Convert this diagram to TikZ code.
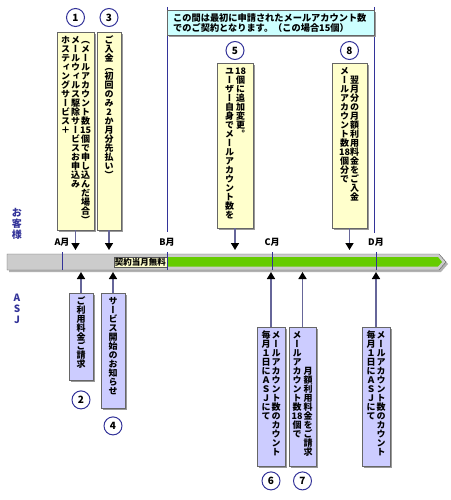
\documentclass[tikz,border=0pt]{standalone}
\usepackage{fontspec}
\setmainfont{Noto Sans CJK JP}
\newfontfamily\tatefont{Noto Sans CJK JP}[RawFeature=+vert]
\usetikzlibrary{positioning}
\usetikzlibrary{shadows}
\usetikzlibrary{arrows.meta}
\definecolor{asjnavy}{RGB}{51,51,153}
\definecolor{shaft}{RGB}{102,102,153}
\definecolor{boxyellow}{RGB}{255,255,204}
\definecolor{boxlilac}{RGB}{204,204,255}
\definecolor{boxcyan}{RGB}{204,255,255}
\definecolor{bargreen}{RGB}{102,204,0}
\definecolor{bargray}{RGB}{204,204,204}
\makeatletter
\newcommand\tate[1]{\vtop{\tatefont\baselineskip=9pt\lineskiplimit=-20pt\lineskip=0pt
  \@tfor\tate@c:=#1\do{\hbox to 10pt{\hss\vrule height 8pt depth 1pt width 0pt\tate@c\hss}}}}
\makeatother
\newcommand\tbox[2]{\vbox to #1{\hbox{#2}\vss}}
\tikzset{
  ybox/.style={draw=gray!80!black, fill=boxyellow, inner sep=3pt, anchor=north,
    font=\bfseries\fontsize{9}{9}\selectfont,
    drop shadow={shadow xshift=2pt, shadow yshift=-2pt, fill=gray!80, opacity=1}},
  lbox/.style={ybox, fill=boxlilac},
  num/.style={circle, draw=asjnavy, line width=1pt, fill=white, minimum size=18pt,
    inner sep=0pt, font=\bfseries\fontsize{10}{10}\selectfont},
  arr/.style={draw=shaft, line width=1.5pt, ->, >={Triangle[length=7pt,width=8pt,black]}},
  mon/.style={font=\bfseries\fontsize{9}{9}\selectfont, inner sep=0pt},
  side/.style={align=center, text=asjnavy, font=\bfseries\fontsize{10}{11}\selectfont, inner sep=0pt}
}
\begin{document}
\begin{tikzpicture}[x=1pt,y=-1pt]
\useasboundingbox (0,0) rectangle (450,500);
\coordinate (top) at (0,250);
\coordinate (bot) at (0,272);
% bar
\fill [gray!60] (9,256) -- (441,256) -- (448,264) -- (441,272) -- (9,272) -- cycle;
\draw [gray!70!black, fill=bargray] (7,254) -- (439,254) -- (446,262) -- (439,270) -- (7,270) -- cycle;
\fill [bargreen] (167,257) -- (438,257) -- (442,262) -- (438,266.5) -- (167,266.5) -- cycle;
\node [draw=gray!70!black, fill=boxyellow, inner sep=1pt, minimum height=10pt, anchor=east,
  font=\bfseries\fontsize{8.5}{9}\selectfont] (muryo) at (167,262) {契約当月無料};
\foreach \m/\n in {62/A,167/B,272/C,376/D} {
  \draw [asjnavy] (\m,252) -- (\m,270);
  \node [mon] (m\n) at (\m,242) {{\n}月};
}
\draw [asjnavy] (167,7) -- (167,232);
\draw [asjnavy] (374,7) -- (374,233);
\node [ybox, fill=boxcyan, anchor=north west, minimum width=207pt, minimum height=23pt,
  text width=195pt, inner xsep=6pt, align=left, font=\bfseries\fontsize{9.2}{10}\selectfont]
  (note) at (167,10) {この間は最初に申請されたメールアカウント数\\でのご契約となります。（この場合15個）};
\node [side] (kyaku) at (17,224) {お\\客\\様};
\node [side] (asj) at (17,309) {A\\S\\J};
% customer
\node [ybox, minimum width=37pt] (k1) at (75.5,32) {\tbox{192pt}{\tate{ホスティングサービス＋}\tate{メールウィルス駆除サービスお申込み}\tate{（メールアカウント数{15}個で申し込んだ場合）}}};
\node [ybox, minimum width=24pt] (k3) at (109,32) {\tbox{192pt}{\tate{ご入金（初回のみ2か月分先払い）}}};
\node [ybox, minimum width=36pt] (k5) at (235,63) {\tbox{159pt}{\tate{ユーザー自身でメールアカウント数を}\kern1pt\tate{{18}個に追加変更。}}};
\node [ybox, minimum width=35pt] (k8) at (349.5,63) {\tbox{159pt}{\tate{メールアカウント数{18}個分で}\tate{{}翌月分の月額利用料金をご入金}}};
% ASJ
\node [lbox, minimum width=24pt] (k2) at (81,293) {\tbox{81pt}{\tate{ご利用料金ご請求}}};
\node [lbox, minimum width=24pt] (k4) at (113,293) {\tbox{109pt}{\tate{サービス開始のお知らせ}}};
\node [lbox, minimum width=28pt] (k6) at (271,327) {\tbox{133pt}{\tate{毎月１日にＡＳＪにて}\tate{メールアカウント数のカウント}}};
\node [lbox, minimum width=25pt] (k7) at (302.5,327) {\tbox{133pt}{\tate{メールアカウント数{18}個で}\kern1pt\tate{{}{}{}{}月額利用料金をご請求}}};
\node [lbox, minimum width=28pt] (kd) at (376,327) {\tbox{133pt}{\tate{毎月１日にＡＳＪにて}\tate{メールアカウント数のカウント}}};
\node [num, above=5pt of k1] (n1) {1};
\node [num, above=5pt of k3] (n3) {3};
\node [num, above=3pt of k5] (n5) {5};
\node [num, above=3pt of k8] (n8) {8};
\node [num, below=10pt of k2] (n2) {2};
\node [num, below=8pt of k4] (n4) {4};
\node [num, below=5pt of k6] (n6) {6};
\node [num, below=5pt of k7] (n7) {7};
\foreach \k in {k1,k3,k5,k8} \draw [arr] (\k) -- (\k |- top);
\foreach \k in {k2,k4,k6,k7,kd} \draw [arr] (\k) -- (\k |- bot);
\end{tikzpicture}
\end{document}
